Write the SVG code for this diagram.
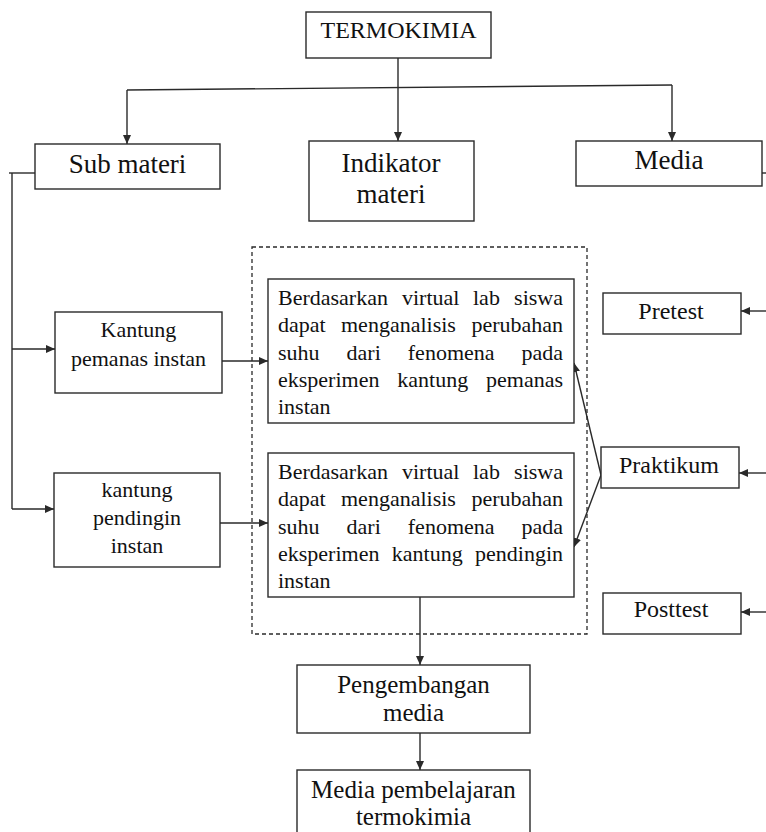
<svg xmlns="http://www.w3.org/2000/svg" width="766" height="832" viewBox="0 0 766 832">
<style>
.box{fill:#fff;stroke:#2a2a2a;stroke-width:1.4}
.ln{fill:none;stroke:#2a2a2a;stroke-width:1.4}
.dash{fill:none;stroke:#2a2a2a;stroke-width:1.3;stroke-dasharray:4 3}
text{font-family:"Liberation Serif","Times New Roman",serif;fill:#111}
.c{text-anchor:middle}
.e{text-anchor:end}
.f27{font-size:27px}
.f24{font-size:24px}
.f25{font-size:25px}
.f22{font-size:22px}
</style>
<defs>
<marker id="ah" markerUnits="userSpaceOnUse" markerWidth="9" markerHeight="8" refX="9" refY="4" orient="auto">
<path d="M0,0 L9,4 L0,8 z" fill="#2a2a2a"/>
</marker>
</defs>
<rect width="766" height="832" fill="#fff"/>
<rect class="dash" x="252" y="247" width="335" height="387"/>
<g id="connectors">
<path class="ln" d="M398,58 L398,141" marker-end="url(#ah)"/>
<path class="ln" d="M127,90 L672,85"/>
<path class="ln" d="M127,90 L127,144" marker-end="url(#ah)"/>
<path class="ln" d="M672,85 L672,141" marker-end="url(#ah)"/>
<path class="ln" d="M35,173 L9,173"/>
<path class="ln" d="M12,173 L12,509"/>
<path class="ln" d="M12,349 L55,349" marker-end="url(#ah)"/>
<path class="ln" d="M12,509 L54,509" marker-end="url(#ah)"/>
<path class="ln" d="M222,361 L268,361" marker-end="url(#ah)"/>
<path class="ln" d="M220,523 L268,523" marker-end="url(#ah)"/>
<path class="ln" d="M601,475 L574,363" marker-end="url(#ah)"/>
<path class="ln" d="M601,475 L574,547" marker-end="url(#ah)"/>
<path class="ln" d="M766,311 L741,311" marker-end="url(#ah)"/>
<path class="ln" d="M766,473 L739,473" marker-end="url(#ah)"/>
<path class="ln" d="M766,612 L741,612" marker-end="url(#ah)"/>
<path class="ln" d="M762,173 L766,173"/>
<path class="ln" d="M420,597 L420,665" marker-end="url(#ah)"/>
<path class="ln" d="M420,733 L420,770" marker-end="url(#ah)"/>
</g>
<g id="termokimia">
<rect class="box" x="306" y="12" width="185" height="46"/>
<text class="c f24" x="398.5" y="38">TERMOKIMIA</text>
</g>
<g id="sub-materi">
<rect class="box" x="35" y="144" width="185" height="45"/>
<text class="c f27" x="127.5" y="173">Sub materi</text>
</g>
<g id="indikator-materi">
<rect class="box" x="309" y="141" width="165" height="80"/>
<text class="c f27" x="391" y="172">Indikator</text>
<text class="c f27" x="391" y="203">materi</text>
</g>
<g id="media">
<rect class="box" x="576" y="141" width="186" height="45"/>
<text class="c f27" x="669" y="169">Media</text>
</g>
<g id="kantung-pemanas">
<rect class="box" x="55" y="312" width="167" height="81"/>
<text class="c f22" x="138.5" y="337">Kantung</text>
<text class="c f22" x="138.5" y="366">pemanas instan</text>
</g>
<g id="kantung-pendingin">
<rect class="box" x="54" y="473" width="166" height="94"/>
<text class="c f22" x="137" y="497">kantung</text>
<text class="c f22" x="137" y="525">pendingin</text>
<text class="c f22" x="137" y="553">instan</text>
</g>
<g id="indikator-pemanas">
<rect class="box" x="268" y="279" width="306" height="144"/>
<text class="f22" x="278" y="305">Berdasarkan</text>
<text class="f22" x="402" y="305">virtual</text>
<text class="f22" x="473" y="305">lab</text>
<text class="f22 e" x="563" y="305">siswa</text>
<text class="f22" x="278" y="332">dapat</text>
<text class="f22" x="341" y="332">menganalisis</text>
<text class="f22 e" x="563" y="332">perubahan</text>
<text class="f22" x="278" y="359.5">suhu</text>
<text class="f22" x="346.6" y="359.5">dari</text>
<text class="f22" x="407.8" y="359.5">fenomena</text>
<text class="f22 e" x="563" y="359.5">pada</text>
<text class="f22" x="278" y="387">eksperimen</text>
<text class="f22" x="397.3" y="387">kantung</text>
<text class="f22 e" x="563" y="387">pemanas</text>
<text class="f22" x="278" y="414">instan</text>
</g>
<g id="indikator-pendingin">
<rect class="box" x="268" y="453" width="306" height="144"/>
<text class="f22" x="278" y="479">Berdasarkan</text>
<text class="f22" x="402" y="479">virtual</text>
<text class="f22" x="473" y="479">lab</text>
<text class="f22 e" x="563" y="479">siswa</text>
<text class="f22" x="278" y="506">dapat</text>
<text class="f22" x="341" y="506">menganalisis</text>
<text class="f22 e" x="563" y="506">perubahan</text>
<text class="f22" x="278" y="533.5">suhu</text>
<text class="f22" x="346.6" y="533.5">dari</text>
<text class="f22" x="407.8" y="533.5">fenomena</text>
<text class="f22 e" x="563" y="533.5">pada</text>
<text class="f22" x="278" y="561">eksperimen</text>
<text class="f22" x="391.8" y="561">kantung</text>
<text class="f22 e" x="563" y="561">pendingin</text>
<text class="f22" x="278" y="588">instan</text>
</g>
<g id="pretest">
<rect class="box" x="603" y="293" width="138" height="41"/>
<text class="c f24" x="671" y="319">Pretest</text>
</g>
<g id="praktikum">
<rect class="box" x="601" y="447" width="138" height="41"/>
<text class="c f24" x="669" y="473">Praktikum</text>
</g>
<g id="posttest">
<rect class="box" x="603" y="593" width="138" height="41"/>
<text class="c f24" x="671" y="617">Posttest</text>
</g>
<g id="pengembangan-media">
<rect class="box" x="297" y="665" width="233" height="68"/>
<text class="c f25" x="413.5" y="693">Pengembangan</text>
<text class="c f25" x="413.5" y="721">media</text>
</g>
<g id="media-pembelajaran">
<rect class="box" x="297" y="770" width="233" height="80"/>
<text class="c f25" x="413.5" y="798">Media pembelajaran</text>
<text class="c f25" x="413.5" y="825">termokimia</text>
</g>
</svg>
